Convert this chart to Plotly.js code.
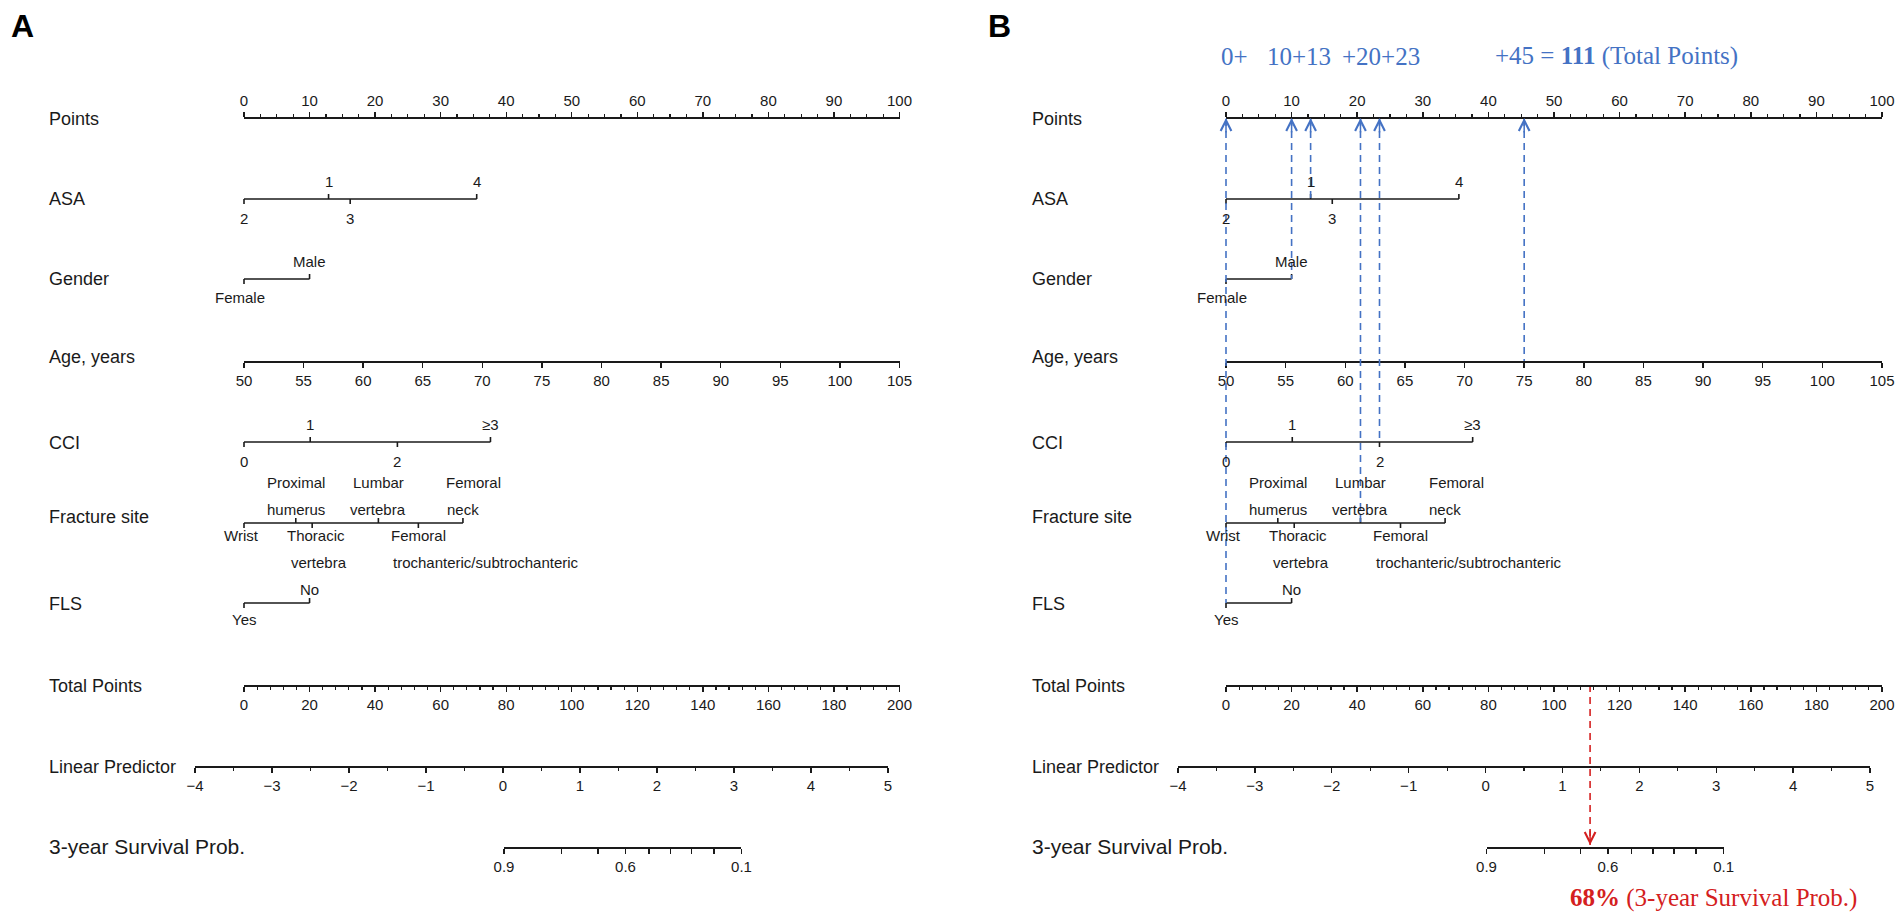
<!DOCTYPE html>
<html>
<head>
<meta charset="utf-8">
<script src="https://cdn.plot.ly/plotly-3.0.1.min.js"></script>
<style>html,body{margin:0;padding:0;background:#fff}#chart{width:1902px;height:919px}</style>
</head>
<body>
<div id="chart"></div>
<script>
// ---------------- data ----------------
const rowLabels = ['Points','ASA','Gender','Age, years','CCI','Fracture site','FLS','Total Points','Linear Predictor','3-year Survival Prob.'];
const pointsRange = [0, 100];
const asaLevels = ['2','1','3','4'];
const asaPoints = [0, 12.9, 16.2, 35.5];
const genderLevels = ['Female','Male'];
const genderPoints = [0, 10];
const ageRange = [50, 105];
const cciLevels = ['0','1','2','\u22653'];
const cciPoints = [0, 10.1, 23.4, 37.6];
const fractureLevels = ['Wrist','Proximal humerus','Thoracic vertebra','Lumbar vertebra','Femoral trochanteric/subtrochanteric','Femoral neck'];
const fracturePoints = [0, 7.9, 10.4, 20.5, 26.6, 33.4];
const flsLevels = ['Yes','No'];
const flsPoints = [0, 10];
const totalPointsRange = [0, 200];
const lpRange = [-4, 5];
const survProbs = [0.9, 0.8, 0.7, 0.6, 0.5, 0.4, 0.3, 0.2, 0.1];
const survLabelled = [0.9, 0.6, 0.1];
const survLpOffset = 2.263;           // linear predictor where ln(-ln S) = 0
const patient = {ASA:'1', Gender:'Male', Age:75, CCI:'2', Fracture:'Lumbar vertebra', FLS:'Yes'};
const patientTotal = 111;
const sumTexts = ['0+', '10+13', '+20+23', '+45 = <b>111</b> (Total Points)'];
const survText = '<b>68%</b> (3-year Survival Prob.)';

// ---------------- layout / style ----------------
const W = 1902, H = 919;
const ink = '#1a1a1a', blue = '#4472C4', red = '#D42020';
const sans = 'Liberation Sans, Arial, sans-serif';
const serif = 'Liberation Serif, Times New Roman, serif';
const panels = [
  {name:'A', letterX:9,   labelX:47,   pts:[244, 899.5], lp:[195, 888],   example:false},
  {name:'B', letterX:986, labelX:1030, pts:[1226, 1882], lp:[1178, 1870], example:true}
];
const rowY = {points:117, asa:199, gender:279, age:361, cci:442, fracture:523, fls:603, total:685, lp:766, surv:847};
const rowLabelY = [119, 199, 279, 357, 443, 517, 604, 686, 767, 846];
const labelGap = {asa:[-18,19], gender:[-18,18], cci:[-18,19], fracture:[-14,12], fls:[-14,16]};
const lineStep = 27, tickLen = 5;
const labelNudge = {
  'Female':[{dx:-4}],
  'Wrist':[{dx:-3}],
  'Thoracic vertebra':[{dx:4},{dx:7}],
  'Femoral trochanteric/subtrochanteric':[{dx:0},{anchor:'left',dx:-27}],
  'Femoral neck':[{dx:11},{dx:0}]
};
const sumTextX = [1219, 1265, 1340, 1493];
const survTextPos = [1568, 898];

const catVars = [
  {key:'asa', levels:asaLevels, pts:asaPoints},
  {key:'gender', levels:genderLevels, pts:genderPoints},
  {key:'cci', levels:cciLevels, pts:cciPoints},
  {key:'fracture', levels:fractureLevels, pts:fracturePoints},
  {key:'fls', levels:flsLevels, pts:flsPoints}
];

const T = p => Math.log(-Math.log(p)) + survLpOffset;
const splitLabel = s => { const k = s.indexOf(' '); return k < 0 ? [s] : [s.slice(0,k), s.slice(k+1)]; };
const lookup = (levels, pts, v) => pts[levels.indexOf(v)];

const traces = [];
const annotations = [];
const layout = {
  width: W, height: H,
  margin: {l:0, r:0, t:0, b:0, pad:0},
  paper_bgcolor: '#fff', plot_bgcolor: 'rgba(0,0,0,0)',
  showlegend: false,
  font: {family: sans, color: ink},
  yaxis: {domain:[0,1], range:[H,0], autorange:false, visible:false, fixedrange:true},
  annotations: annotations
};

const idOf = n => n === 1 ? '' : String(n);
const dom = (a, b) => [a / W, b / W];
const pos = y => 1 - y / H;

panels.forEach((P, i) => {
  const base = i * 6 + 1;
  const ax = {pts:base, age:base+1, total:base+2, lp:base+3, surv:base+4, ov:base+5};
  const ref = k => 'x' + idOf(ax[k]);
  const key = k => 'xaxis' + idOf(ax[k]);
  const common = () => ({
    anchor:'free', autorange:false, fixedrange:true,
    showgrid:false, zeroline:false, showline:true, linecolor:ink, linewidth:1.6,
    ticks:'outside', ticklen:5, tickwidth:1.4, tickcolor:ink,
    tickfont:{family:sans, size:15, color:ink}, layer:'above traces'
  });
  const minor = d => ({dtick:d, ticks:'outside', ticklen:3, tickwidth:1.2, tickcolor:ink, showgrid:false});

  layout[key('pts')] = Object.assign(common(), {domain:dom(P.pts[0], P.pts[1]), range:pointsRange,
    position:pos(rowY.points), side:'top', tickmode:'linear', tick0:0, dtick:10, minor:minor(2.5)});
  layout[key('age')] = Object.assign(common(), {domain:dom(P.pts[0], P.pts[1]), range:ageRange,
    position:pos(rowY.age), side:'bottom', tickmode:'linear', tick0:50, dtick:5});
  layout[key('total')] = Object.assign(common(), {domain:dom(P.pts[0], P.pts[1]), range:totalPointsRange,
    position:pos(rowY.total), side:'bottom', tickmode:'linear', tick0:0, dtick:20, minor:minor(4)});
  layout[key('lp')] = Object.assign(common(), {domain:dom(P.lp[0], P.lp[1]), range:lpRange,
    position:pos(rowY.lp), side:'bottom', tickmode:'linear', tick0:0, dtick:1, minor:minor(0.5)});

  const lpScale = (P.lp[1] - P.lp[0]) / (lpRange[1] - lpRange[0]);
  const sx = v => P.lp[0] + (v - lpRange[0]) * lpScale;
  const sv = survProbs.map(T);
  const sMin = Math.min(...sv), sMax = Math.max(...sv);
  layout[key('surv')] = Object.assign(common(), {domain:dom(sx(sMin), sx(sMax)), range:[sMin, sMax],
    position:pos(rowY.surv), side:'bottom', tickmode:'array', tickvals:sv,
    ticktext:survProbs.map(p => survLabelled.includes(p) ? p.toFixed(1) : '')});

  const padPx = 15;
  const ppu = (P.pts[1] - P.pts[0]) / (pointsRange[1] - pointsRange[0]);
  layout[key('ov')] = {visible:false, anchor:'y', fixedrange:true, autorange:false,
    domain:dom(P.pts[0] - padPx, P.pts[1] + padPx),
    range:[pointsRange[0] - padPx / ppu, pointsRange[1] + padPx / ppu]};

  // dummy traces so every axis gets a subplot
  [['pts', pointsRange], ['age', ageRange], ['total', totalPointsRange], ['lp', lpRange], ['surv', [sMin, sMax]]].forEach(([k, r]) => {
    traces.push({type:'scatter', mode:'lines', x:r, y:[null, null], xaxis:ref(k), yaxis:'y', hoverinfo:'skip', showlegend:false});
  });

  // panel letter
  annotations.push({xref:'paper', yref:'y', x:P.letterX / W, y:26, xanchor:'left', yanchor:'middle',
    text:'<b>' + P.name + '</b>', showarrow:false, font:{family:sans, size:32, color:'#000'}});

  // row labels
  rowLabels.forEach((t, j) => {
    annotations.push({xref:'paper', yref:'y', x:P.labelX / W, y:rowLabelY[j], xanchor:'left', yanchor:'middle',
      text:t, showarrow:false, font:{family:sans, size: j === rowLabels.length - 1 ? 21 : 18, color:ink}});
  });

  // categorical variables
  catVars.forEach(v => {
    const y0 = rowY[v.key];
    const order = v.pts.map((p, j) => j).sort((a, b) => v.pts[a] - v.pts[b]);
    const xs = [Math.min(...v.pts), Math.max(...v.pts), null];
    const ys = [y0, y0, null];
    order.forEach((j, rank) => {
      const above = rank % 2 === 1;
      xs.push(v.pts[j], v.pts[j], null);
      ys.push(y0, y0 + (above ? -tickLen : tickLen), null);
      const lines = v.key === 'fracture' ? splitLabel(v.levels[j]) : [v.levels[j]];
      const gap = labelGap[v.key];
      lines.forEach((t, li) => {
        const dy = above ? gap[0] - (lines.length - 1 - li) * lineStep : gap[1] + li * lineStep;
        const nd = (labelNudge[v.levels[j]] || [])[li] || {};
        annotations.push({xref:ref('ov'), yref:'y', x:v.pts[j], y:y0 + dy, text:t, showarrow:false,
          xanchor:nd.anchor || 'center', xshift:nd.dx || 0, yanchor:'middle',
          font:{family:sans, size:15, color:ink}});
      });
    });
    traces.push({type:'scatter', mode:'lines', x:xs, y:ys, xaxis:ref('ov'), yaxis:'y',
      line:{color:ink, width:1.6}, connectgaps:false, hoverinfo:'skip', showlegend:false});
  });

  if (P.example) {
    const picks = [
      {x:lookup(flsLevels, flsPoints, patient.FLS), axis:'ov', row:'fls'},
      {x:lookup(genderLevels, genderPoints, patient.Gender), axis:'ov', row:'gender'},
      {x:lookup(asaLevels, asaPoints, patient.ASA), axis:'ov', row:'asa'},
      {x:lookup(fractureLevels, fracturePoints, patient.Fracture), axis:'ov', row:'fracture'},
      {x:lookup(cciLevels, cciPoints, patient.CCI), axis:'ov', row:'cci'},
      {x:patient.Age, axis:'age', row:'age'}
    ];
    picks.forEach(pk => {
      traces.push({type:'scatter', mode:'lines', x:[pk.x, pk.x], y:[rowY.points + 2, rowY[pk.row]],
        xaxis:ref(pk.axis), yaxis:'y', line:{color:blue, width:1.6, dash:'7px,5px'}, hoverinfo:'skip', showlegend:false});
      annotations.push({xref:ref(pk.axis), yref:'y', x:pk.x, y:rowY.points + 1, ax:0, ay:16, text:'',
        showarrow:true, arrowhead:5, arrowsize:1.4, arrowwidth:1.5, arrowcolor:blue});
    });
    // total points -> survival
    traces.push({type:'scatter', mode:'lines', x:[patientTotal, patientTotal], y:[rowY.total, rowY.surv - 2],
      xaxis:ref('total'), yaxis:'y', line:{color:red, width:1.6, dash:'7px,5px'}, hoverinfo:'skip', showlegend:false});
    annotations.push({xref:ref('total'), yref:'y', x:patientTotal, y:rowY.surv - 2, ax:0, ay:-16, text:'',
      showarrow:true, arrowhead:5, arrowsize:1.4, arrowwidth:1.5, arrowcolor:red});

    sumTexts.forEach((t, j) => {
      annotations.push({xref:'paper', yref:'y', x:sumTextX[j] / W, y:56, xanchor:'left', yanchor:'middle',
        text:t, showarrow:false, font:{family:serif, size:25, color:blue}});
    });
    annotations.push({xref:'paper', yref:'y', x:survTextPos[0] / W, y:survTextPos[1], xanchor:'left', yanchor:'middle',
      text:survText, showarrow:false, font:{family:serif, size:25, color:red}});
  }
});

Plotly.newPlot('chart', traces, layout, {staticPlot:true, displayModeBar:false});
</script>
</body>
</html>
